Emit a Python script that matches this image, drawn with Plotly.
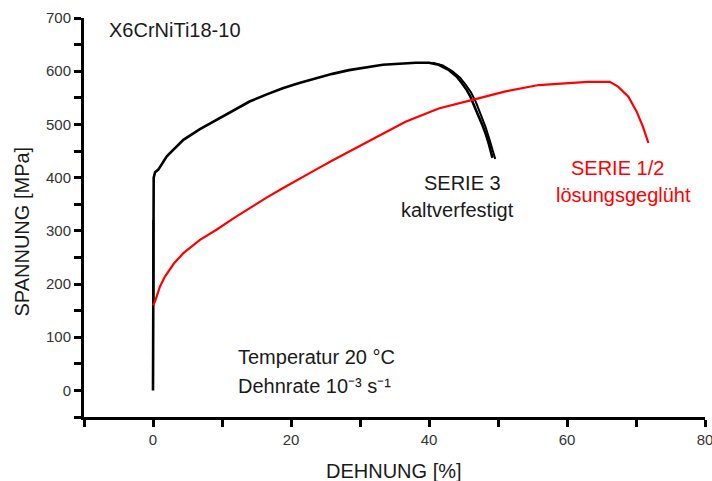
import plotly.graph_objects as go

# Tensile test: stress vs. strain for X6CrNiTi18-10
# SERIE 3 (cold-worked), specimen A
s3a_strain = [0, 0, 0.05, 0.1, 0.3, 0.77, 2, 4.4, 6.8, 9.2, 11.6, 14, 16.4, 18.8, 21.2,
              23.6, 26, 28.4, 30.8, 33.3, 35.7, 38.1, 40, 41.4, 42.9, 44, 44.8, 45.5,
              46, 46.6, 47.2, 47.7, 48.2, 48.7, 49.2]
s3a_stress = [0, 320, 380, 400, 410, 415, 440, 471, 491, 508, 526, 543, 556, 568, 578,
              587, 595, 602, 607, 612, 614, 616, 616, 612, 602, 590, 577, 564,
              552, 535, 515, 500, 483, 462, 437]

# SERIE 3, specimen B (elastic part and necking branch)
s3b_strain = [0.06, 0.06]
s3b_stress = [165, 320]
s3c_strain = [40.5, 42, 43.4, 44.5, 45.3, 46.1, 46.8, 47.5, 48.2, 48.8, 49.6]
s3c_stress = [616, 611, 600, 588, 575, 560, 542, 520, 495, 470, 435]

# SERIE 1/2 (solution annealed)
s12_strain = [0, 0.29, 1.0, 1.73, 3, 4.4, 6.8, 9.2, 11.6, 14.0, 16.4, 18.8, 21.2, 23.6,
              26, 28.4, 31.8, 36.6, 41.4, 46.3, 51.1, 55.9, 60.2, 63, 66.2, 67.4, 68.9,
              70.1, 71.0, 71.8]
s12_stress = [160, 167, 195, 214, 238, 258, 283, 302, 323, 343, 362, 380, 398, 415,
              432, 449, 472, 505, 530, 546, 562, 574, 578, 580, 580, 571, 552,
              524, 496, 465]

# ticks every 10 % / 50 MPa, labels every 20 % / 100 MPa
x_ticks = [-10, 0, 10, 20, 30, 40, 50, 60, 70, 80]
x_labels = ["", "0", "", "20", "", "40", "", "60", "", "80"]
y_ticks = [-50, 0, 50, 100, 150, 200, 250, 300, 350, 400, 450, 500, 550, 600, 650, 700]
y_labels = ["", "0", "", "100", "", "200", "", "300", "", "400", "", "500", "", "600", "", "700"]

X_RANGE = [-10, 80]
Y_RANGE = [-50, 700]

W, H = 712, 481
M = dict(l=84, r=7, t=18, b=64)

FONT = "Arial"
TXT = "#1a1a1a"

fig = go.Figure()
fig.add_trace(go.Scatter(x=s3a_strain, y=s3a_stress, mode="lines",
                         line=dict(color="black", width=2.6)))
fig.add_trace(go.Scatter(x=s3b_strain, y=s3b_stress, mode="lines",
                         line=dict(color="black", width=2.2)))
fig.add_trace(go.Scatter(x=s3c_strain, y=s3c_stress, mode="lines",
                         line=dict(color="black", width=2)))
fig.add_trace(go.Scatter(x=s12_strain, y=s12_stress, mode="lines",
                         line=dict(color="#ff0000", width=2.2)))


def to_paper(x, y):
    """Strain/stress position -> paper fraction of the plot area."""
    px = (x - X_RANGE[0]) / (X_RANGE[1] - X_RANGE[0])
    py = (y - Y_RANGE[0]) / (Y_RANGE[1] - Y_RANGE[0])
    return px, py


def note(x, y, text, color=TXT, size=20, xanchor="center"):
    px, py = to_paper(x, y)
    fig.add_annotation(x=px, y=py, xref="paper", yref="paper", text=text, showarrow=False,
                       xanchor=xanchor, yanchor="middle",
                       font=dict(family=FONT, size=size, color=color))


note(-6.7, 677, "X6CrNiTi18-10", xanchor="left")
note(44.9, 390, "SERIE 3")
note(44.2, 340, "kaltverfestigt")
note(67.3, 418, "SERIE 1/2", color="#ff0000")
note(68.2, 368, "lösungsgeglüht", color="#ff0000")
note(12.0, 62, "Temperatur 20 °C", xanchor="left")
note(12.0, 9, "Dehnrate 10⁻³ s⁻¹", xanchor="left")

# axis titles placed in the margins (pixel position -> paper fraction)
plot_w = W - M["l"] - M["r"]
plot_h = H - M["t"] - M["b"]
fig.add_annotation(x=(394 - M["l"]) / plot_w, y=-(471 - (H - M["b"])) / plot_h,
                   xref="paper", yref="paper", text="DEHNUNG [%]", showarrow=False,
                   xanchor="center", yanchor="middle",
                   font=dict(family=FONT, size=20, color=TXT))
fig.add_annotation(x=(21.5 - M["l"]) / plot_w, y=((H - M["b"]) - 232) / plot_h,
                   xref="paper", yref="paper", text="SPANNUNG [MPa]", showarrow=False,
                   textangle=-90, xanchor="center", yanchor="middle",
                   font=dict(family=FONT, size=20, color=TXT))


def axis(rng, vals, labels):
    return dict(
        range=rng, tickmode="array", tickvals=vals, ticktext=labels,
        showline=True, linecolor="black", linewidth=3,
        showgrid=False, zeroline=False,
        ticks="outside", ticklen=7, tickwidth=3, tickcolor="black",
        ticklabeloverflow="allow",
        tickfont=dict(family=FONT, size=15, color="#333333"),
    )


fig.update_layout(
    width=W, height=H,
    margin=dict(**M, autoexpand=False),
    paper_bgcolor="white", plot_bgcolor="white",
    showlegend=False,
    xaxis=axis(X_RANGE, x_ticks, x_labels),
    yaxis=axis(Y_RANGE, y_ticks, y_labels),
)

fig.write_html("out.html")
